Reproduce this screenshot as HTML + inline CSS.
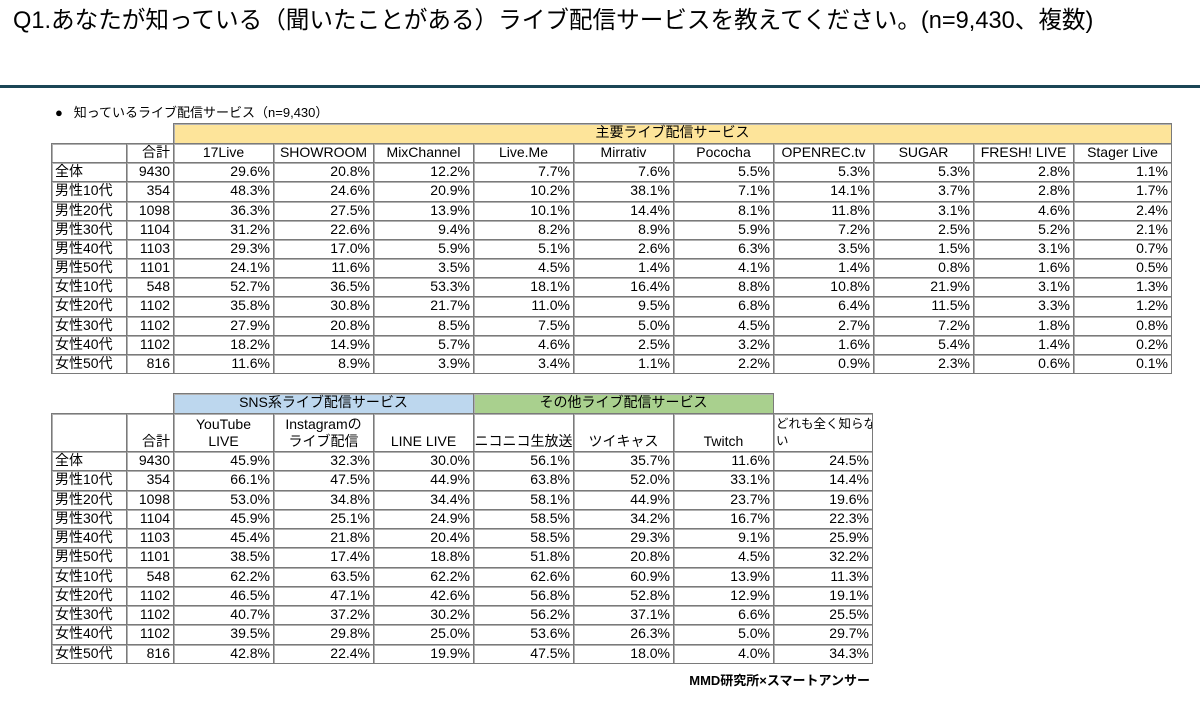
<!DOCTYPE html>
<html><head><meta charset="utf-8">
<style>
body{margin:0;width:1200px;height:702px;background:#fff;position:relative;overflow:hidden;font-family:"Liberation Sans","Noto Sans CJK JP",sans-serif;color:#000}
.c{position:absolute;box-sizing:border-box;border:1px solid #7a7a7a;box-shadow:inset 1px 1px 0 #b0b0b0;font-size:14px;line-height:17px;padding:0 3px;white-space:nowrap;overflow:hidden}
.r{text-align:right}.ctr{text-align:center}
</style></head><body>
<div style="position:absolute;left:13px;top:6px;font-size:23.6px;line-height:30px">Q1.あなたが知っている（聞いたことがある）ライブ配信サービスを教えてください。(n=9,430、複数)</div>
<div style="position:absolute;left:0;top:85px;width:1200px;height:3px;background:#1b4656"></div>
<div style="position:absolute;left:55px;top:104px;font-size:13px;line-height:17px">●&nbsp;&nbsp; 知っているライブ配信サービス（n=9,430）</div>
<div style="position:absolute;left:640px;width:230px;top:670px;font-size:13px;font-weight:bold;text-align:right">MMD研究所×スマートアンサー</div>
<div id="root"></div>
<script>
const rowLabels=["全体","男性10代","男性20代","男性30代","男性40代","男性50代","女性10代","女性20代","女性30代","女性40代","女性50代"];
const totals=[9430,354,1098,1104,1103,1101,548,1102,1102,1102,816];
const mainServices=["17Live","SHOWROOM","MixChannel","Live.Me","Mirrativ","Pococha","OPENREC.tv","SUGAR","FRESH! LIVE","Stager Live"];
const mainValues=[
[29.6,20.8,12.2,7.7,7.6,5.5,5.3,5.3,2.8,1.1],
[48.3,24.6,20.9,10.2,38.1,7.1,14.1,3.7,2.8,1.7],
[36.3,27.5,13.9,10.1,14.4,8.1,11.8,3.1,4.6,2.4],
[31.2,22.6,9.4,8.2,8.9,5.9,7.2,2.5,5.2,2.1],
[29.3,17.0,5.9,5.1,2.6,6.3,3.5,1.5,3.1,0.7],
[24.1,11.6,3.5,4.5,1.4,4.1,1.4,0.8,1.6,0.5],
[52.7,36.5,53.3,18.1,16.4,8.8,10.8,21.9,3.1,1.3],
[35.8,30.8,21.7,11.0,9.5,6.8,6.4,11.5,3.3,1.2],
[27.9,20.8,8.5,7.5,5.0,4.5,2.7,7.2,1.8,0.8],
[18.2,14.9,5.7,4.6,2.5,3.2,1.6,5.4,1.4,0.2],
[11.6,8.9,3.9,3.4,1.1,2.2,0.9,2.3,0.6,0.1]];
const otherServices=["YouTube<br>LIVE","Instagramの<br>ライブ配信","LINE LIVE","ニコニコ生放送","ツイキャス","Twitch","どれも全く知らな<br>い"];
const otherValues=[
[45.9,32.3,30.0,56.1,35.7,11.6,24.5],
[66.1,47.5,44.9,63.8,52.0,33.1,14.4],
[53.0,34.8,34.4,58.1,44.9,23.7,19.6],
[45.9,25.1,24.9,58.5,34.2,16.7,22.3],
[45.4,21.8,20.4,58.5,29.3,9.1,25.9],
[38.5,17.4,18.8,51.8,20.8,4.5,32.2],
[62.2,63.5,62.2,62.6,60.9,13.9,11.3],
[46.5,47.1,42.6,56.8,52.8,12.9,19.1],
[40.7,37.2,30.2,56.2,37.1,6.6,25.5],
[39.5,29.8,25.0,53.6,26.3,5.0,29.7],
[42.8,22.4,19.9,47.5,18.0,4.0,34.3]];

const root=document.getElementById('root');
function cell(x,y,w,h,html,cls,bg,name){
  const d=document.createElement('div');
  d.className='c '+(cls||'');
  d.style.left=x+'px';d.style.top=y+'px';d.style.width=(w+1)+'px';d.style.height=(h+1)+'px';
  if(bg)d.style.background=bg;
  d.innerHTML=html;
  
  
  root.appendChild(d);return d;
}
const x0=51,x1=126,x2=173,cw=100;
const rh=19.17;
function colX(i){return x2+i*cw;}
cell(x2,123,1171-x2,20,'主要ライブ配信サービス','ctr','#fde49a','main-services-header');
let hy=143;
cell(x0,hy,x1-x0,rh,'','', '', 'corner-cell');
cell(x1,hy,x2-x1,rh,'合計','r','','total-header');
mainServices.forEach((s,i)=>{const w=i==9?1171-colX(i):cw;const d=cell(colX(i),hy,w,rh,s,'ctr','','service-header');});
rowLabels.forEach((lab,r)=>{
  const y=Math.round(hy+rh*(r+1));const h=Math.round(hy+rh*(r+2))-y;
  cell(x0,y,x1-x0,h,lab,'','','row-label');
  cell(x1,y,x2-x1,h,totals[r],'r','','row-total');
  mainValues[r].forEach((v,i)=>{const w=i==9?1171-colX(i):cw;cell(colX(i),y,w,h,v.toFixed(1)+'%','r','','value-cell');});
});
cell(x2,393,300,20,'SNS系ライブ配信サービス','ctr','#bdd7ee','sns-services-header');
cell(473,393,300,20,'その他ライブ配信サービス','ctr','#a9d08e','other-services-header');
const hy2=413,hh2=38,rh2=19.27;
cell(x0,hy2,x1-x0,hh2,'','','','corner-cell-2');
cell(x1,hy2,x2-x1,hh2,'<div style="position:absolute;bottom:1px;right:3px">合計</div>','','','total-header-2');
otherServices.forEach((s,i)=>{
  const w=i==6?872-colX(i):cw;
  const align=i==6?'left:2px;text-align:left;font-size:12.5px':'left:0;right:0;text-align:center';
  cell(colX(i),hy2,w,hh2,'<div style="position:absolute;bottom:1px;'+align+'">'+s+'</div>','','','service-header-2');
});
rowLabels.forEach((lab,r)=>{
  const y=Math.round(hy2+hh2+rh2*r);const h=Math.round(hy2+hh2+rh2*(r+1))-y;
  cell(x0,y,x1-x0,h,lab,'','','row-label-2');
  cell(x1,y,x2-x1,h,totals[r],'r','','row-total-2');
  otherValues[r].forEach((v,i)=>{const w=i==6?872-colX(i):cw;cell(colX(i),y,w,h,v.toFixed(1)+'%','r','','value-cell-2');});
});
</script>
</body></html>
